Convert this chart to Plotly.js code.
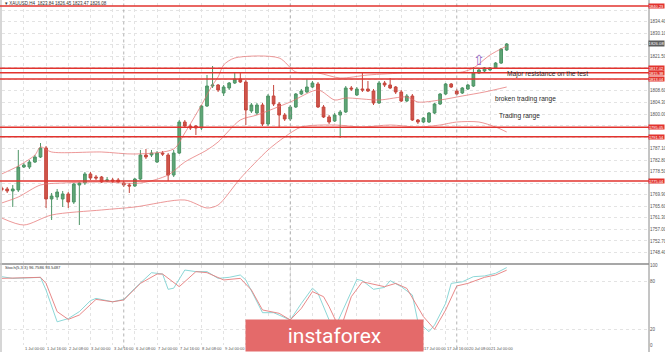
<!DOCTYPE html>
<html><head><meta charset="utf-8">
<script src="https://cdn.plot.ly/plotly-3.0.1.min.js"></script>
<style>html,body{margin:0;padding:0;background:#fff;}#chart{width:665px;height:352px;}</style>
</head><body><div id="chart"></div>
<script>
const openP  = [1772.45,1772.07,1771.33,1771.70,1780.26,1780.26,1782.12,1783.98,1787.35,1768.35,1769.09,1768.35,1770.21,1767.22,1773.56,1774.30,1777.66,1776.54,1776.54,1775.05,1775.42,1775.42,1774.30,1773.56,1773.19,1775.79,1784.73,1784.73,1782.12,1785.46,1784.73,1777.28,1785.46,1797.02,1795.53,1795.53,1794.79,1802.98,1810.43,1810.81,1807.83,1809.69,1811.55,1813.04,1811.92,1801.12,1800.37,1803.35,1796.28,1806.71,1803.73,1799.63,1798.14,1802.61,1807.45,1808.20,1810.06,1811.18,1802.61,1798.89,1797.40,1799.63,1800.75,1809.69,1807.08,1809.32,1809.32,1808.57,1804.10,1811.55,1810.81,1810.06,1808.20,1804.85,1806.71,1797.77,1797.02,1797.02,1800.37,1803.73,1807.45,1811.18,1808.57,1807.83,1809.32,1810.43,1815.28,1816.03,1816.40,1817.14,1818.98,1823.84];
const highP  = [1773.19,1772.82,1773.56,1786.60,1781.75,1782.87,1784.73,1789.20,1788.09,1770.58,1772.07,1771.33,1770.95,1774.30,1774.68,1778.40,1778.40,1777.28,1776.91,1776.54,1776.17,1776.17,1775.05,1774.30,1776.17,1786.60,1786.97,1786.60,1786.22,1786.22,1785.46,1786.60,1797.77,1797.77,1796.28,1795.91,1803.35,1814.53,1817.88,1811.18,1810.81,1811.92,1815.28,1815.28,1812.67,1804.10,1804.10,1804.10,1807.45,1810.81,1804.47,1800.37,1803.35,1807.83,1809.32,1813.04,1812.30,1811.92,1803.35,1799.63,1800.37,1801.49,1810.43,1810.43,1810.06,1815.28,1812.30,1809.32,1812.30,1812.30,1813.41,1810.43,1808.94,1807.45,1807.45,1798.14,1798.89,1800.75,1804.10,1807.83,1811.55,1811.55,1809.32,1810.06,1811.18,1817.51,1816.77,1817.51,1817.51,1819.35,1824.59,1826.45];
const lowP   = [1770.95,1770.58,1765.37,1770.95,1779.89,1779.52,1781.75,1783.61,1764.99,1760.52,1767.97,1765.36,1764.99,1766.48,1758.66,1773.56,1775.42,1775.42,1774.30,1774.68,1774.30,1774.30,1772.82,1770.58,1772.82,1775.42,1783.24,1783.98,1781.75,1784.36,1775.05,1776.54,1785.09,1794.79,1794.05,1792.18,1794.05,1802.61,1809.69,1808.20,1806.71,1808.94,1811.18,1811.55,1795.91,1800.37,1799.63,1795.53,1795.53,1802.98,1794.79,1797.40,1797.40,1802.24,1807.08,1807.83,1809.69,1802.24,1798.51,1796.28,1797.02,1791.06,1800.37,1808.57,1806.71,1808.20,1808.20,1803.35,1803.73,1810.06,1809.32,1807.45,1804.47,1804.47,1797.40,1796.28,1796.65,1796.65,1800.00,1803.35,1807.08,1809.69,1807.08,1807.45,1808.94,1810.06,1814.91,1815.65,1816.03,1816.77,1818.63,1823.47];
const closeP = [1771.70,1771.33,1772.07,1780.26,1781.01,1782.12,1783.98,1787.35,1768.35,1769.46,1770.95,1770.21,1767.22,1773.93,1774.30,1777.66,1776.17,1776.17,1774.68,1775.42,1775.05,1774.68,1773.56,1773.19,1775.79,1784.73,1783.98,1785.46,1785.46,1785.09,1777.28,1785.46,1797.02,1795.53,1794.79,1794.79,1802.98,1810.43,1810.81,1808.94,1810.06,1811.55,1813.04,1811.92,1801.49,1803.35,1803.35,1796.28,1806.71,1803.73,1799.63,1798.14,1802.61,1807.45,1808.57,1810.06,1811.55,1802.61,1798.89,1797.02,1799.63,1800.75,1809.69,1809.32,1809.32,1808.94,1808.57,1804.10,1811.55,1810.81,1809.69,1808.20,1804.85,1806.71,1797.77,1797.02,1798.51,1800.37,1803.73,1807.45,1811.18,1810.06,1807.45,1809.69,1810.81,1815.28,1816.40,1817.14,1817.14,1818.98,1824.21,1826.08];

const bbUpIdx = [0,3,6,7,9,18,24,31,33,36,38,39,40,42,50,53,57,61,66,73,79,83,85,88,91];
const bbUpVal = [1777.66,1780.64,1784.73,1787.71,1785.85,1785.85,1785.10,1786.97,1792.93,1803.35,1810.81,1813.79,1818.26,1820.87,1820.87,1815.65,1815.28,1813.41,1814.53,1815.28,1815.28,1815.65,1817.14,1821.98,1825.34];
const bbMidIdx = [0,3,7,11,18,25,30,33,37,39,43,46,52,57,60,62,68,73,75,79,83,87,91];
const bbMidVal = [1766.85,1769.09,1773.56,1774.30,1774.68,1774.30,1777.28,1782.12,1786.60,1789.57,1797.77,1799.63,1804.47,1808.94,1805.22,1805.96,1805.22,1806.34,1804.47,1805.22,1806.71,1808.20,1810.06];
const bbLowIdx = [0,4,9,18,24,33,37,39,43,48,51,54,60,65,70,75,79,82,86,89,91];
const bbLowVal = [1761.27,1758.66,1762.38,1764.25,1765.36,1767.97,1764.99,1766.11,1776.00,1786.60,1791.44,1795.16,1795.91,1795.16,1795.91,1795.16,1795.91,1797.02,1797.02,1795.16,1793.30];

const stochKIdx = [0,2,7,8,10,12,14,16,17,20,22,24,27,29,30,31,33,35,37,39,41,43,44,47,49,52,54,56,57,59,60,64,65,67,69,70,72,74,75,77,78,80,81,83,85,87,89,91];
const stochKVal = [85.4,83.3,84.5,68.6,29,33,41.7,55.4,58.3,54,57,71,90.4,88.7,69.6,71,93.7,91.7,91.7,83.3,84.6,87.5,81.3,40.4,40.4,31.3,52,71,64.6,31.3,20.8,82,80.4,69.6,72,80.4,72.9,62.5,29,16.7,25,52,77,79,85.4,86.3,89.6,96.76];
const stochDIdx = [0,7,8,10,12,14,17,20,22,25,28,29,32,35,37,40,43,45,47,50,52,54,56,58,59,61,63,65,69,71,73,76,78,80,82,84,87,89,91];
const stochDVal = [83.3,84.6,77,41.7,32,37.5,57,54,56.3,77,88.7,88.7,72.9,91.7,90.4,81.3,83.3,68.8,43.8,39.6,31.3,45.8,66.7,60.4,47.9,18.8,60.4,79,72.9,77,70.8,35.4,19.6,43.8,73.8,77,84.6,87.5,93.55];

const levels = [1840.23,1817.02,1815.38,1813.04,1795.05,1791.54,1775.04];
const priceTicks = [1748.40,1752.70,1757.00,1761.30,1765.60,1769.90,1774.20,1778.50,1782.80,1787.10,1791.40,1795.70,1800.00,1804.30,1808.60,1812.90,1817.20,1821.50,1825.80,1830.10,1834.40,1838.70];
const stochTicks = [0,20,80,100];
const weekStarts = [22,52,82];
const xLabelIdx = [0,4,8,12,16,20,24,28,32,36,40,44,48,52,56,60,64,68,72,76,80,84,88];
const xLabels = ["30 Jun 2020","1 Jul 00:00","1 Jul 16:00","2 Jul 08:00","3 Jul 00:00","3 Jul 16:00","6 Jul 08:00","7 Jul 00:00","7 Jul 16:00","8 Jul 08:00","9 Jul 00:00","9 Jul 16:00","10 Jul 08:00","13 Jul 00:00","13 Jul 16:00","14 Jul 08:00","15 Jul 00:00","15 Jul 16:00","16 Jul 08:00","17 Jul 00:00","17 Jul 16:00","20 Jul 08:00","21 Jul 00:00"];
const notes = ["Major resistance on the test","broken trading range","Trading range"];

const barIdx = openP.map((_, i) => i);
const lastClose = closeP[closeP.length - 1];
const F = "Liberation Sans, Arial, sans-serif";
// price-axis labels hidden behind the red level boxes / last-price box are left blank (as in the reference)
const boxed = levels.concat([lastClose]);
const priceTickText = priceTicks.map(v => boxed.some(b => Math.abs(b - v) < 2.0) ? '' : v.toFixed(2));

const bandLine = {color:'rgba(228,112,112,0.9)', width:0.8, shape:'spline', smoothing:0.8};
const traces = [
  {type:'candlestick', x:barIdx, open:openP, high:highP, low:lowP, close:closeP, xaxis:'x', yaxis:'y',
   whiskerwidth:0,
   increasing:{line:{color:'#4d9466', width:1}, fillcolor:'#5fa676'},
   decreasing:{line:{color:'#c5473e', width:1}, fillcolor:'#d0554b'}, hoverinfo:'skip'},
  {type:'scatter', mode:'lines', x:bbUpIdx, y:bbUpVal, line:bandLine, xaxis:'x', yaxis:'y'},
  {type:'scatter', mode:'lines', x:bbMidIdx, y:bbMidVal, line:bandLine, xaxis:'x', yaxis:'y'},
  {type:'scatter', mode:'lines', x:bbLowIdx, y:bbLowVal, line:bandLine, xaxis:'x', yaxis:'y'},
  {type:'scatter', mode:'lines', x:stochKIdx, y:stochKVal, line:{color:'#7fd3d3', width:0.9}, xaxis:'x', yaxis:'y2'},
  {type:'scatter', mode:'lines', x:stochDIdx, y:stochDVal, line:{color:'#e57c7c', width:0.9}, xaxis:'x', yaxis:'y2'}
];

const plotW = 647;
const shapes = [];
const annotations = [];
shapes.push({type:'line', xref:'paper', yref:'paper', x0:-2/plotW, x1:1, y0:1-264/352, y1:1-264/352, line:{color:'#8a8a8a', width:1.6}});
shapes.push({type:'line', xref:'paper', yref:'paper', x0:1, x1:1, y0:0, y1:1, line:{color:'#8a8a8a', width:1}});
shapes.push({type:'line', xref:'paper', yref:'paper', x0:-1/plotW, x1:-1/plotW, y0:0, y1:1, line:{color:'#c8c8c8', width:1.5}});
weekStarts.forEach(w => shapes.push({type:'line', xref:'x', yref:'paper', x0:w, x1:w, y0:0.01, y1:1, line:{color:'#a0a0a0', width:0.8, dash:'dot'}}));
levels.forEach(l => {
  shapes.push({type:'line', xref:'paper', yref:'y', x0:-2/plotW, x1:1, y0:l, y1:l, line:{color:'#e2332e', width:1.6}});
});
annotations.push({xref:'paper', yref:'paper', x:1/plotW, y:1-4/352, xanchor:'left', yanchor:'middle', showarrow:false,
  text:'▾ XAUUSD,H4  1823.84 1826.45 1823.47 1826.08', font:{family:F, size:4.5, color:'#333'}});
annotations.push({xref:'paper', yref:'paper', x:1/plotW, y:1-267.5/352, xanchor:'left', yanchor:'middle', showarrow:false,
  text:'Stoch(5,3,3) 96.7586 93.5487', font:{family:F, size:4.2, color:'#333'}});
const notePos = [[505,74],[493,99],[497,116]];
notes.forEach((t, k) => annotations.push({xref:'paper', yref:'paper', x:(notePos[k][0]-2)/plotW, y:1-notePos[k][1]/352,
  xanchor:'left', yanchor:'middle', showarrow:false, text:t, font:{family:F, size:6.6, color:'#2a2a2a'}}));
annotations.push({xref:'x', yref:'paper', x:86, y:1-60/352, xanchor:'center', yanchor:'middle', showarrow:false,
  text:'⇧', font:{family:'DejaVu Sans', size:14, color:'#9468c4'}});
xLabels.forEach((t, k) => annotations.push({xref:'x', yref:'paper', x:xLabelIdx[k], y:1-348/352, xanchor:'left', yanchor:'middle',
  showarrow:false, borderpad:0, text:t, font:{family:F, size:4, color:'#555'}}));
levels.forEach(l => annotations.push({xref:'paper', yref:'y', x:1+16/plotW, y:l, xanchor:'right', yanchor:'middle', showarrow:false,
  text:l.toFixed(2), width:15, height:4.4, borderpad:0, bgcolor:'#e2332e', font:{family:F, size:4, color:'#fff'}}));
annotations.push({xref:'paper', yref:'y', x:1+16/plotW, y:lastClose, xanchor:'right', yanchor:'middle', showarrow:false,
  text:lastClose.toFixed(2), width:15, height:5, borderpad:0, bgcolor:'#5c5c5c', font:{family:F, size:4.2, color:'#fff'}});
annotations.push({xref:'paper', yref:'paper', x:(245-2)/plotW, y:0, xanchor:'left', yanchor:'bottom', showarrow:false,
  text:'instaforex', width:177, height:31, borderpad:0, bgcolor:'rgb(228,106,106)', font:{family:'Roboto', size:21, color:'#fff'}});

const gridStyle = {showgrid:true, gridcolor:'#e3e3e3', griddash:'dot', gridwidth:1, zeroline:false};
const layout = {
  width:665, height:352, margin:{l:2, r:16, t:0, b:0}, paper_bgcolor:'#fff', plot_bgcolor:'#fff', showlegend:false,
  hovermode:false,
  xaxis:Object.assign({range:[0.063,116.64], anchor:'y2', tickvals:xLabelIdx, showticklabels:false, ticks:'',
    rangeslider:{visible:false}, showline:false}, gridStyle),
  yaxis:Object.assign({domain:[1-263/352, 1-3/352], range:[1744.50,1841.35], side:'right', tickvals:priceTicks,
    ticktext:priceTickText, ticks:'', tickfont:{family:F, size:4.5, color:'#555'}, showline:false}, gridStyle),
  yaxis2:Object.assign({domain:[1-345/352, 1-265/352], range:[0,100], side:'right', tickvals:stochTicks,
    ticktext:stochTicks.map(String), ticks:'', tickfont:{family:F, size:4.5, color:'#555'}, showline:false}, gridStyle),
  shapes:shapes, annotations:annotations
};
Plotly.newPlot('chart', traces, layout, {staticPlot:true, displayModeBar:false});
</script></body></html>
